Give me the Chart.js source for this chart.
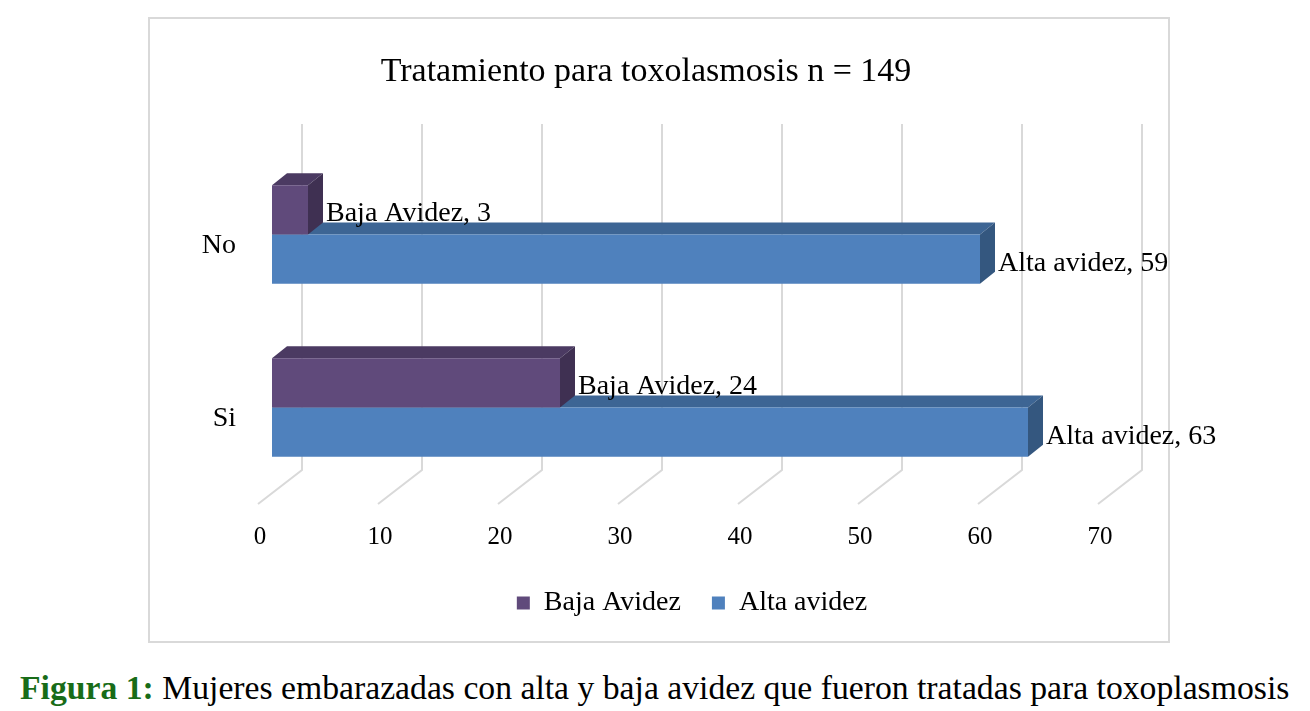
<!DOCTYPE html>
<html lang="es">
<head>
    <meta charset="UTF-8">
    <title>Tratamiento para toxolasmosis</title>
    <style>
        body {
            margin: 0;
            width: 1310px;
            height: 711px;
            background: #ffffff;
            position: relative;
            overflow: hidden;
            font-family: 'Liberation Serif', 'Times New Roman', serif;
        }
        #frame {
            position: absolute;
            left: 148px;
            top: 17px;
            width: 1018px;
            height: 622px;
            border: 2px solid #d9d9d9;
        }
        #chart {
            position: absolute;
            left: 72px;
            top: 0;
        }
        #caption {
            position: absolute;
            left: 20px;
            top: 668px;
            font-size: 33.7px;
            line-height: 40px;
            color: #000;
            white-space: nowrap;
        }
        #caption b {
            color: #186c18;
        }
    </style>
</head>
<body>
    <div id="frame"></div>
    <canvas id="chart" width="1148" height="650"></canvas>
    <div id="caption"><b>Figura 1:</b> Mujeres embarazadas con alta y baja avidez que fueron tratadas para toxoplasmosis</div>

    <script src="https://cdn.jsdelivr.net/npm/chart.js"></script>
    <script>
        // data
        const categories = ['No', 'Si'];
        const seriesNames = ['Baja Avidez', 'Alta avidez'];
        const bajaAvidez = [3, 24];
        const altaAvidez = [59, 63];
        const xTicks = [0, 10, 20, 30, 40, 50, 60, 70];

        const serif = "'Liberation Serif', 'Times New Roman', serif";
        const frontColors = ['#604a7b', '#4f81bd'];
        const topColors = ['#4b3a62', '#3d6594'];
        const sideColors = ['#3f3052', '#34577f'];

        // depth of a bar, and offsets of the back wall / floor edge
        const DX = 15, DY = -12;

        const bars3d = {
            id: 'bars3d',
            beforeDatasetsDraw(chart) {
                const { ctx, chartArea, scales } = chart;
                const x = scales.x;
                ctx.save();
                // back wall grid + floor lines
                ctx.strokeStyle = '#d9d9d9';
                ctx.lineWidth = 2;
                xTicks.forEach(v => {
                    const px = x.getPixelForValue(v);
                    ctx.beginPath();
                    ctx.moveTo(px + 30, chartArea.top - 24);
                    ctx.lineTo(px + 30, chartArea.bottom - 24);
                    ctx.lineTo(px - 14, chartArea.bottom + 10);
                    ctx.stroke();
                });
                // top and side faces, lower series first
                [1, 0].forEach(di => {
                    chart.getDatasetMeta(di).data.forEach(bar => {
                        const p = bar.getProps(['x', 'y', 'base', 'height'], true);
                        const t = p.y - p.height / 2, b = p.y + p.height / 2;
                        ctx.fillStyle = topColors[di];
                        ctx.beginPath();
                        ctx.moveTo(p.base, t);
                        ctx.lineTo(p.base + DX, t + DY);
                        ctx.lineTo(p.x + DX, t + DY);
                        ctx.lineTo(p.x, t);
                        ctx.closePath();
                        ctx.fill();
                        ctx.fillStyle = sideColors[di];
                        ctx.beginPath();
                        ctx.moveTo(p.x, t);
                        ctx.lineTo(p.x + DX, t + DY);
                        ctx.lineTo(p.x + DX, b + DY);
                        ctx.lineTo(p.x, b);
                        ctx.closePath();
                        ctx.fill();
                    });
                });
                ctx.restore();
            },
            afterDatasetsDraw(chart) {
                const { ctx } = chart;
                ctx.save();
                ctx.font = '28px ' + serif;
                ctx.fillStyle = '#000';
                ctx.textAlign = 'left';
                ctx.textBaseline = 'middle';
                chart.data.datasets.forEach((ds, di) => {
                    chart.getDatasetMeta(di).data.forEach((bar, i) => {
                        ctx.fillText(ds.label + ', ' + ds.data[i], bar.x + 18, bar.y + 4);
                    });
                });
                ctx.restore();
            }
        };

        new Chart(document.getElementById('chart'), {
            type: 'bar',
            data: {
                labels: categories,
                datasets: [
                    { label: seriesNames[0], data: bajaAvidez, backgroundColor: frontColors[0] },
                    { label: seriesNames[1], data: altaAvidez, backgroundColor: frontColors[1] }
                ]
            },
            options: {
                indexAxis: 'y',
                responsive: false,
                animation: false,
                devicePixelRatio: 1,
                categoryPercentage: 0.57,
                barPercentage: 1,
                layout: { padding: { bottom: 23 } },
                scales: {
                    x: {
                        min: 0,
                        max: 70,
                        grid: { display: false, drawTicks: false },
                        border: { display: false },
                        ticks: {
                            stepSize: 10,
                            padding: 28,
                            labelOffset: -12,
                            color: '#000',
                            font: { family: serif, size: 25 }
                        },
                        afterFit(s) { s.paddingRight = 108; s.paddingLeft = 0; s.height = 64; }
                    },
                    y: {
                        grid: { display: false, drawTicks: false },
                        border: { display: false },
                        ticks: {
                            padding: 36,
                            labelOffset: 11,
                            color: '#000',
                            font: { family: serif, size: 28 }
                        },
                        afterFit(s) { s.width = 200; }
                    }
                },
                plugins: {
                    title: {
                        display: true,
                        text: 'Tratamiento para toxolasmosis n = 149',
                        color: '#000',
                        font: { family: serif, size: 34, weight: 'normal' },
                        padding: { top: 51.6, bottom: 55.6 }
                    },
                    legend: {
                        position: 'bottom',
                        fullSize: false,
                        labels: {
                            boxWidth: 13,
                            boxHeight: 13,
                            padding: 31,
                            color: '#000',
                            font: { family: serif, size: 28 }
                        }
                    },
                    tooltip: { enabled: false }
                }
            },
            plugins: [bars3d]
        });
    </script>
</body>
</html>
